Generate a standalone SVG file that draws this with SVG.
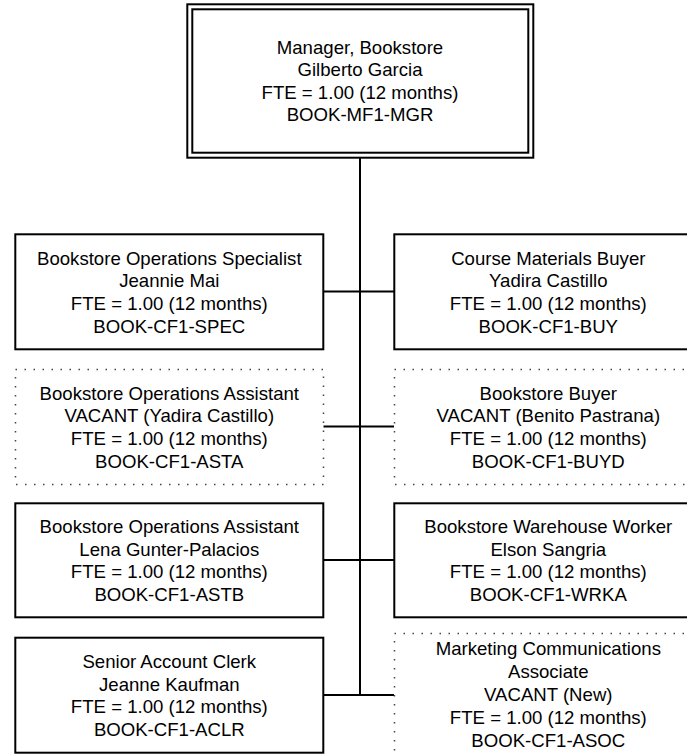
<svg xmlns="http://www.w3.org/2000/svg" width="687" height="754" viewBox="0 0 687 754">
<style>
.box{fill:#fff;stroke:#000;stroke-width:2}
.dot{fill:#fff;stroke:#444;stroke-width:1.5;stroke-dasharray:1.5 7.5}
.con{fill:none;stroke:#000;stroke-width:2}
text{font-family:"Liberation Sans",Arial,sans-serif;font-size:18.6px;fill:#000;text-anchor:middle}
</style>
<rect width="687" height="754" fill="#fff"/>
<g id="connectors">
<line class="con" x1="360" y1="158" x2="360" y2="696"/>
<line class="con" x1="323" y1="291.5" x2="394" y2="291.5"/>
<line class="con" x1="323" y1="426.5" x2="394" y2="426.5"/>
<line class="con" x1="323" y1="560" x2="394" y2="560"/>
<line class="con" x1="323" y1="695" x2="394" y2="695"/>
</g>
<g id="mgr">
<rect class="box" x="187.3" y="4.3" width="346" height="153.4"/>
<rect class="box" x="192.3" y="9.3" width="336" height="143.4"/>
<text x="360" y="53.5">Manager, Bookstore</text>
<text x="360" y="76">Gilberto Garcia</text>
<text x="360" y="98.5">FTE = 1.00 (12 months)</text>
<text x="360" y="121">BOOK-MF1-MGR</text>
</g>
<g id="spec">
<rect class="box" x="15.3" y="234.3" width="308" height="115"/>
<text x="169.3" y="264.5">Bookstore Operations Specialist</text>
<text x="169.3" y="287.2">Jeannie Mai</text>
<text x="169.3" y="309.9">FTE = 1.00 (12 months)</text>
<text x="169.3" y="332.6">BOOK-CF1-SPEC</text>
</g>
<g id="buy">
<rect class="box" x="394.3" y="234.3" width="308" height="115"/>
<text x="548.3" y="264.5">Course Materials Buyer</text>
<text x="548.3" y="287.2">Yadira Castillo</text>
<text x="548.3" y="309.9">FTE = 1.00 (12 months)</text>
<text x="548.3" y="332.6">BOOK-CF1-BUY</text>
</g>
<g id="asta">
<rect class="dot" x="15.5" y="369.5" width="308" height="115"/>
<text x="169.3" y="399.5">Bookstore Operations Assistant</text>
<text x="169.3" y="422.2">VACANT (Yadira Castillo)</text>
<text x="169.3" y="444.9">FTE = 1.00 (12 months)</text>
<text x="169.3" y="467.6">BOOK-CF1-ASTA</text>
</g>
<g id="buyd">
<rect class="dot" x="394.5" y="369.5" width="308" height="115"/>
<text x="548.3" y="399.5">Bookstore Buyer</text>
<text x="548.3" y="422.2">VACANT (Benito Pastrana)</text>
<text x="548.3" y="444.9">FTE = 1.00 (12 months)</text>
<text x="548.3" y="467.6">BOOK-CF1-BUYD</text>
</g>
<g id="astb">
<rect class="box" x="15.3" y="503.3" width="308" height="114"/>
<text x="169.3" y="533">Bookstore Operations Assistant</text>
<text x="169.3" y="555.7">Lena Gunter-Palacios</text>
<text x="169.3" y="578.4">FTE = 1.00 (12 months)</text>
<text x="169.3" y="601.1">BOOK-CF1-ASTB</text>
</g>
<g id="wrka">
<rect class="box" x="394.3" y="503.3" width="308" height="114"/>
<text x="548.3" y="533">Bookstore Warehouse Worker</text>
<text x="548.3" y="555.7">Elson Sangria</text>
<text x="548.3" y="578.4">FTE = 1.00 (12 months)</text>
<text x="548.3" y="601.1">BOOK-CF1-WRKA</text>
</g>
<g id="aclr">
<rect class="box" x="15.3" y="637.7" width="308" height="115"/>
<text x="169.3" y="668">Senior Account Clerk</text>
<text x="169.3" y="690.7">Jeanne Kaufman</text>
<text x="169.3" y="713.4">FTE = 1.00 (12 months)</text>
<text x="169.3" y="736.1">BOOK-CF1-ACLR</text>
</g>
<g id="asoc">
<rect class="dot" x="394.5" y="633.5" width="308" height="124"/>
<text x="548.3" y="655">Marketing Communications</text>
<text x="548.3" y="678">Associate</text>
<text x="548.3" y="701">VACANT (New)</text>
<text x="548.3" y="724">FTE = 1.00 (12 months)</text>
<text x="548.3" y="747">BOOK-CF1-ASOC</text>
</g>
</svg>
